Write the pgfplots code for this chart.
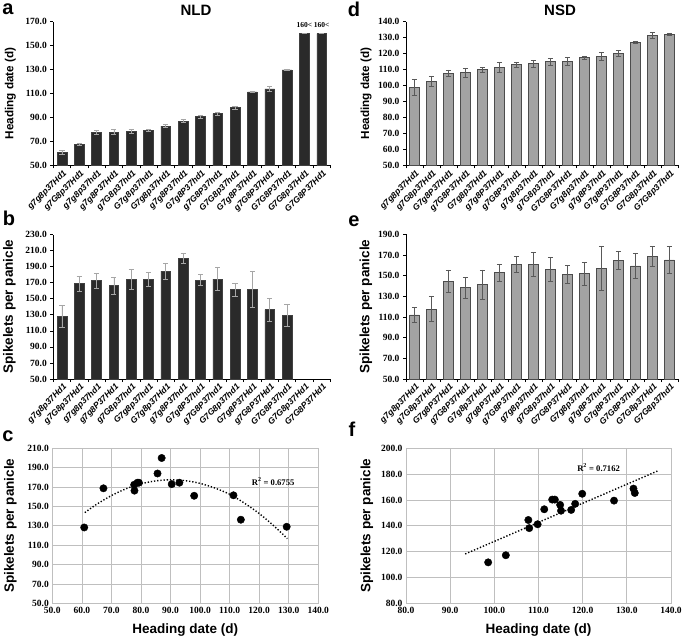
\documentclass[border=0pt]{standalone}
\usepackage{pgfplots}
\pgfplotsset{compat=1.18}
\usepackage{pgfplotstable}
\usepackage{fontspec}
\setmainfont{Liberation Serif}
\setsansfont{Liberation Sans}

\definecolor{darkbar}{HTML}{2A2A2A}
\definecolor{lightbar}{HTML}{A3A3A3}
\definecolor{gridgray}{HTML}{BFBFBF}

\pgfplotstableread{
x y e
0 60.7 1.8
1 67.5 0.8
2 77.7 1.8
3 77.7 2.0
4 78.6 1.5
5 79.3 1.0
6 82.8 1.4
7 87.0 1.2
8 90.6 1.1
9 93.1 1.0
10 98.1 1.0
11 111.4 0.8
12 113.9 2.0
13 129.8 0.8
14 160.0 0
15 160.0 0
}\tabA

\pgfplotstableread{
x y e
0 128.3 13.7
1 168.7 9.2
2 172.4 9.6
3 166.3 10.4
4 174.5 12.5
5 174.5 8.7
6 184.5 10.0
7 200.3 6.7
8 173.2 7.1
9 174.5 14.6
10 161.2 8.3
11 161.8 22.5
12 136.3 14.6
13 129.2 13.3
}\tabB

\pgfplotstableread{
hd sp
60.8 128.3
67.3 168.7
77.7 172.4
77.8 166.3
78.8 174.5
79.3 174.5
85.6 184.0
87.0 200.0
90.4 173.0
93.0 174.5
98.0 161.0
111.3 161.5
113.8 136.3
129.3 129.0
}\tabC

\pgfplotstableread{
x y e
0 98.9 5.0
1 102.6 3.2
2 107.7 2.1
3 108.1 3.0
4 110.0 1.5
5 111.3 3.0
6 113.1 1.4
7 113.6 2.0
8 114.9 2.0
9 115.1 2.5
10 117.4 0.8
11 118.1 2.5
12 120.0 1.9
13 127.0 0.8
14 131.4 1.9
15 132.2 0.6
}\tabD

\pgfplotstableread{
x y e
0 112.0 7.4
1 117.7 12.0
2 144.8 10.7
3 138.4 10.0
4 141.3 14.2
5 152.9 8.1
6 161.0 7.4
7 161.0 11.3
8 156.1 11.3
9 151.3 8.4
10 151.9 11.0
11 156.8 21.2
12 164.8 8.4
13 159.4 12.2
14 168.4 9.6
15 165.2 12.8
}\tabE

\pgfplotstableread{
hd sp
98.6 111.7
102.6 117.2
107.7 144.5
107.9 138.2
109.8 141.2
111.3 152.8
113.1 160.3
113.7 160.3
114.9 156.2
115.1 151.7
117.4 152.3
118.3 157.0
119.9 164.8
127.1 159.5
131.5 168.8
131.8 165.4
}\tabF

\newcommand{\tickfont}{\rmfamily\bfseries\fontsize{9.5}{10}\selectfont}
\newcommand{\catfont}{\sffamily\bfseries\itshape\fontsize{8.6}{9}\selectfont}
\newcommand{\letterfont}{\sffamily\bfseries\fontsize{20}{20}\selectfont}

\pgfplotsset{
  barbase/.style={
    scale only axis,
    axis lines*=left,
    axis line style={line width=0.8pt, black},
    xmin=-0.5, xmax=15.5,
    xtick={-0.5,0.5,...,15.5},
    x tick label as interval,
    tick align=outside,
    major tick length=3pt,
    tick style={line width=0.6pt, black},
    x tick label style={font=\catfont, rotate=45, anchor=north east, inner sep=0pt, yshift=-1pt},
    y tick label style={font=\tickfont, /pgf/number format/.cd, fixed, fixed zerofill, precision=1, assume math mode=true},
    ybar, bar width=0.56,
    error bars/y dir=both, error bars/y explicit,
  },
  scatbase/.style={
    scale only axis,
    grid=major,
    grid style={gridgray, line width=0.7pt},
    axis line style={gridgray, line width=0.8pt},
    major tick length=0pt,
    tick label style={font=\tickfont, /pgf/number format/.cd, fixed, fixed zerofill, precision=1, assume math mode=true},
  },
  ylab/.style={every axis y label/.style={at={(axis description cs:0,0.5)}, xshift=#1, rotate=90, anchor=center}},
  xlab/.style={every axis x label/.style={at={(axis description cs:0.5,0)}, yshift=#1, anchor=center}},
  darkstyle/.style={fill=darkbar, draw=black!75, line width=0.5pt,
    error bars/error bar style={color=gray!70, line width=0.7pt},
    error bars/error mark options={rotate=90, mark size=2.6pt, line width=0.7pt, color=gray!70}},
  lightstyle/.style={fill=lightbar, draw=black!70, line width=0.7pt,
    error bars/error bar style={color=black!65, line width=0.6pt},
    error bars/error mark options={rotate=90, mark size=2.6pt, line width=0.6pt, color=black!65}},
}

\begin{document}
\begin{tikzpicture}
\useasboundingbox (0pt,0pt) rectangle (685pt,-640pt);

% panel letters and titles
\node[font=\letterfont] at (8pt,-9pt) {a};
\node[font=\letterfont] at (9pt,-218pt) {b};
\node[font=\letterfont] at (8pt,-436pt) {c};
\node[font=\letterfont] at (354pt,-9pt) {d};
\node[font=\letterfont] at (354pt,-221pt) {e};
\node[font=\letterfont] at (352pt,-429pt) {f};
\node[font=\sffamily\bfseries\fontsize{15}{15}\selectfont] at (196pt,-10pt) {NLD};
\node[font=\sffamily\bfseries\fontsize{15}{15}\selectfont] at (560pt,-10pt) {NSD};

% ---- a ----
\begin{axis}[barbase, at={(53.3pt,-165.3pt)}, anchor=south west,
  width=277pt, height=143.6pt,
  ymin=50, ymax=170, ytick={50,70,...,170},
  xticklabels={g7g8p37Hd1,g7G8p37Hd1,g7g8p37hd1,g7g8P37Hd1,g7G8p37hd1,G7g8p37hd1,G7g8p37Hd1,g7g8P37hd1,G7g8P37hd1,g7G8P37hd1,G7G8p37hd1,G7g8P37Hd1,g7G8P37Hd1,G7G8P37hd1,G7G8p37Hd1,G7G8P37Hd1},
  ylab=-43pt,
  ylabel={\sffamily\bfseries\fontsize{11.7}{12}\selectfont Heading date (d)}]
\addplot[darkstyle] table[x=x, y=y, y error=e]{\tabA};
\node[font=\rmfamily\bfseries\fontsize{7.5}{7}\selectfont] at (axis cs:14,167.5) {160<};
\node[font=\rmfamily\bfseries\fontsize{7.5}{7}\selectfont] at (axis cs:15,167.5) {160<};
\end{axis}

% ---- b ----
\begin{axis}[barbase, at={(53.3pt,-379pt)}, anchor=south west,
  width=277pt, height=144.5pt,
  ymin=50, ymax=230, ytick={50,70,...,230},
  xticklabels={g7g8p37Hd1,g7G8p37Hd1,g7g8p37hd1,g7g8P37Hd1,g7G8p37hd1,G7g8p37hd1,G7g8p37Hd1,g7g8P37hd1,G7g8P37hd1,g7G8P37hd1,G7G8p37hd1,G7g8P37Hd1,g7G8P37Hd1,G7G8P37hd1,G7G8p37Hd1,G7G8P37Hd1},
  ylab=-44pt,
  ylabel={\sffamily\bfseries\fontsize{13.5}{14}\selectfont Spikelets per panicle}]
\addplot[darkstyle] table[x=x, y=y, y error=e]{\tabB};
\end{axis}

% ---- c ----
\begin{axis}[scatbase, at={(52.3pt,-603.3pt)}, anchor=south west,
  width=266pt, height=155pt,
  xmin=50, xmax=140, xtick={50,60,...,140},
  ymin=50, ymax=210, ytick={50,70,...,210},
  ylab=-42pt, xlab=-27pt,
  ylabel={\sffamily\bfseries\fontsize{13.5}{14}\selectfont Spikelets per panicle},
  xlabel={\sffamily\bfseries\fontsize{13.5}{14}\selectfont Heading date (d)}]
\addplot[black, line width=1.4pt, dash pattern=on 1.3pt off 1.9pt, smooth] coordinates {
(61,143.6) (65,152.2) (70,161.2) (75,168.3) (80,173.3) (85,176.4) (90,177.5) (95,176.6)
(100,173.8) (105,169) (110,162.6) (115,153.4) (120,142.7) (125,129.9) (129.5,116.8)};
\addplot[only marks, mark=*, mark size=3.7pt, mark options={fill=black, draw=black}] table[x=hd, y=sp]{\tabC};
\node[font=\rmfamily\bfseries\fontsize{8.6}{8}\selectfont] at (axis cs:124.7,175.6) {R\textsuperscript{2} = 0.6755};
\end{axis}

% ---- d ----
\begin{axis}[barbase, at={(406pt,-165.3pt)}, anchor=south west,
  width=272pt, height=143.6pt,
  ymin=50, ymax=140, ytick={50,60,...,140},
  xticklabels={g7g8p37Hd1,g7G8p37Hd1,G7g8P37Hd1,g7G8P37Hd1,G7g8p37Hd1,g7g8P37Hd1,g7G8P37hd1,g7g8p37hd1,g7G8p37hd1,G7G8P37Hd1,G7g8p37hd1,g7g8P37hd1,G7g8P37hd1,G7G8P37hd1,G7G8p37Hd1,G7G8p37hd1},
  ylab=-40pt,
  ylabel={\sffamily\bfseries\fontsize{11.7}{12}\selectfont Heading date (d)}]
\addplot[lightstyle] table[x=x, y=y, y error=e]{\tabD};
\end{axis}

% ---- e ----
\begin{axis}[barbase, at={(406pt,-379pt)}, anchor=south west,
  width=272pt, height=144.7pt,
  ymin=50, ymax=190, ytick={50,70,...,190},
  xticklabels={g7g8p37Hd1,g7G8p37Hd1,G7g8P37Hd1,g7G8P37Hd1,G7g8p37Hd1,g7g8P37Hd1,g7G8P37hd1,g7g8p37hd1,g7G8p37hd1,G7G8P37Hd1,G7g8p37hd1,g7g8P37hd1,G7g8P37hd1,G7G8P37hd1,G7G8p37Hd1,G7G8p37hd1},
  ylab=-40pt,
  ylabel={\sffamily\bfseries\fontsize{13.5}{14}\selectfont Spikelets per panicle}]
\addplot[lightstyle] table[x=x, y=y, y error=e]{\tabE};
\end{axis}

% ---- f ----
\begin{axis}[scatbase, at={(406pt,-603.3pt)}, anchor=south west,
  width=265pt, height=155pt,
  xmin=80, xmax=140, xtick={80,90,...,140},
  ymin=80, ymax=200, ytick={80,100,...,200},
  ylab=-39pt, xlab=-27pt,
  ylabel={\sffamily\bfseries\fontsize{13.5}{14}\selectfont Spikelets per panicle},
  xlabel={\sffamily\bfseries\fontsize{13.5}{14}\selectfont Heading date (d)}]
\addplot[black, line width=1.4pt, dash pattern=on 1.3pt off 1.9pt] coordinates {(93.4,118.2) (137,182.5)};
\addplot[only marks, mark=*, mark size=3.7pt, mark options={fill=black, draw=black}] table[x=hd, y=sp]{\tabF};
\node[font=\rmfamily\bfseries\fontsize{8.6}{8}\selectfont] at (axis cs:123.6,185.3) {R\textsuperscript{2} = 0.7162};
\end{axis}
\end{tikzpicture}
\end{document}
